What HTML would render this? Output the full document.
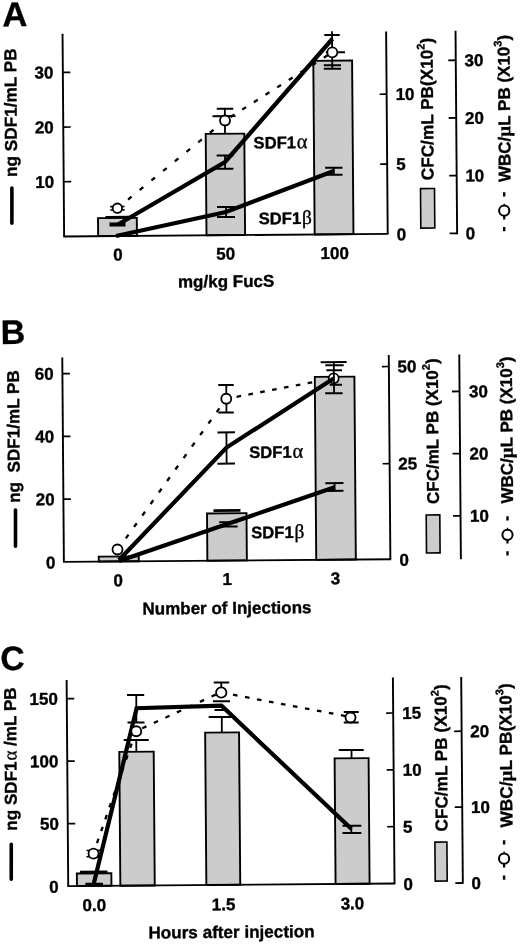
<!DOCTYPE html>
<html><head><meta charset="utf-8"><title>Figure</title>
<style>
html,body{margin:0;padding:0;background:#fff}
svg{display:block}
text{font-family:"Liberation Sans",sans-serif;font-weight:bold;fill:#000;stroke:#000;stroke-width:0.35px}
</style></head><body>
<svg width="520" height="947" viewBox="0 0 520 947">
<rect x="0" y="0" width="520" height="947" fill="#fff" stroke="none"/>
<g transform="rotate(-0.45 260 473.5)" stroke="#000" fill="none">
<g id="pa">
<text x="6.12" y="24.29" font-size="34.5" text-anchor="start" >A</text>
<rect x="100.01" y="216.89" width="38.8" height="18.01" fill="#cccccc" stroke-width="1.9"/>
<rect x="208.37" y="133.49" width="38.6" height="101.41" fill="#cccccc" stroke-width="1.9"/>
<rect x="316.54" y="61.28" width="38.8" height="173.62" fill="#cccccc" stroke-width="1.9"/>
<line x1="66" y1="32.2" x2="66" y2="234.9" stroke-width="1.9" />
<line x1="65.2" y1="234.9" x2="390.4" y2="234.9" stroke-width="1.9" />
<line x1="389.6" y1="32.6" x2="389.6" y2="234.9" stroke-width="1.9" />
<line x1="459" y1="32.2" x2="459" y2="235.7" stroke-width="1.9" />
<line x1="66" y1="180.2" x2="73.5" y2="180.2" stroke-width="1.7" />
<text x="56.5" y="186.2" font-size="17" text-anchor="end" >10</text>
<line x1="66" y1="125.5" x2="73.5" y2="125.5" stroke-width="1.7" />
<text x="56.5" y="131.5" font-size="17" text-anchor="end" >20</text>
<line x1="66" y1="70.8" x2="73.5" y2="70.8" stroke-width="1.7" />
<text x="56.5" y="76.8" font-size="17" text-anchor="end" >30</text>
<line x1="382.6" y1="165.05" x2="389.6" y2="165.05" stroke-width="1.7" />
<text x="398.6" y="171.05" font-size="17" text-anchor="start" >5</text>
<line x1="382.6" y1="95.2" x2="389.6" y2="95.2" stroke-width="1.7" />
<text x="398.6" y="101.2" font-size="17" text-anchor="start" >10</text>
<text x="398.6" y="241.4" font-size="17" text-anchor="start" >0</text>
<line x1="451.5" y1="234.9" x2="459" y2="234.9" stroke-width="1.8" />
<text x="467.7" y="240.9" font-size="17" text-anchor="start" >0</text>
<line x1="451.5" y1="177.2" x2="459" y2="177.2" stroke-width="1.8" />
<text x="467.7" y="183.2" font-size="17" text-anchor="start" >10</text>
<line x1="451.5" y1="119.5" x2="459" y2="119.5" stroke-width="1.8" />
<text x="467.7" y="125.5" font-size="17" text-anchor="start" >20</text>
<line x1="451.5" y1="61.8" x2="459" y2="61.8" stroke-width="1.8" />
<text x="467.7" y="67.8" font-size="17" text-anchor="start" >30</text>
<text transform="translate(19.45,46.5) rotate(-90)" font-size="17.2" text-anchor="end" >ng SDF1/mL PB</text>
<line x1="14.15" y1="186.06" x2="13.87" y2="221.26" stroke-width="3.6" stroke-linecap="round"/>
<text transform="translate(435.9,181.57) rotate(-90)" font-size="17.2" text-anchor="start" >CFC/mL PB(X10<tspan dy="-8" font-size="11">2</tspan><tspan dy="8">)</tspan></text>
<rect x="422.73" y="189.87" width="14" height="39.5" fill="#cccccc" stroke-width="1.6"/>
<text transform="translate(512.88,183.98) rotate(-90)" font-size="17" text-anchor="start" >WBC/<tspan font-weight="bold" font-size="19" font-family="'Liberation Serif',serif">µ</tspan>L PB (X10<tspan dy="-8" font-size="11">3</tspan><tspan dy="8">)</tspan></text>
<line x1="506.4" y1="194.23" x2="506.37" y2="198.43" stroke-width="2.4" />
<line x1="506.13" y1="228.93" x2="506.1" y2="233.13" stroke-width="2.4" />
<line x1="506.26" y1="212.63" x2="506.19" y2="221.33" stroke-width="2.2" />
<line x1="506.31" y1="205.63" x2="506.26" y2="212.63" stroke-width="1.2" />
<circle cx="506.26" cy="212.63" r="5.1" fill="#fff" stroke-width="2.0"/>
<text x="119.68" y="259.39" font-size="17" text-anchor="middle" >0</text>
<text x="227.38" y="259.34" font-size="17" text-anchor="middle" >50</text>
<text x="336.38" y="259.59" font-size="17" text-anchor="middle" >100</text>
<text x="179.46" y="286.86" font-size="17" text-anchor="start" >mg/kg FucS</text>
<text x="256.15" y="148.46" font-size="16.6" text-anchor="start" >SDF1<tspan font-weight="normal" font-size="20.5" dx="0.8" font-family="'Liberation Serif',serif">α</tspan></text>
<text x="260.76" y="224.3" font-size="16.6" text-anchor="start" >SDF1<tspan font-weight="normal" font-size="19.5" dx="0.8" font-family="'Liberation Serif',serif">β</tspan></text>
<line x1="227.67" y1="133.49" x2="227.67" y2="108.49" stroke-width="1.8" />
<line x1="219.62" y1="108.49" x2="236.12" y2="108.49" stroke-width="2.0" />
<line x1="107.52" y1="216.09" x2="131.52" y2="216.09" stroke-width="2.6" />
<line x1="130.18" y1="198.52" x2="133.76" y2="195.64" stroke-width="2.3" />
<line x1="141.95" y1="189.07" x2="145.54" y2="186.19" stroke-width="2.3" />
<line x1="153.73" y1="179.62" x2="157.32" y2="176.74" stroke-width="2.3" />
<line x1="165.51" y1="170.17" x2="169.1" y2="167.3" stroke-width="2.3" />
<line x1="177.29" y1="160.73" x2="180.88" y2="157.85" stroke-width="2.3" />
<line x1="189.07" y1="151.28" x2="192.66" y2="148.4" stroke-width="2.3" />
<line x1="200.85" y1="141.83" x2="204.44" y2="138.95" stroke-width="2.3" />
<line x1="212.63" y1="132.38" x2="216.22" y2="129.5" stroke-width="2.3" />
<line x1="233.37" y1="116.74" x2="237.28" y2="114.31" stroke-width="2.3" />
<line x1="245.08" y1="109.44" x2="248.99" y2="107.01" stroke-width="2.3" />
<line x1="256.79" y1="102.14" x2="260.69" y2="99.7" stroke-width="2.3" />
<line x1="268.5" y1="94.83" x2="272.4" y2="92.4" stroke-width="2.3" />
<line x1="280.21" y1="87.53" x2="284.11" y2="85.1" stroke-width="2.3" />
<line x1="291.92" y1="80.23" x2="295.82" y2="77.79" stroke-width="2.3" />
<line x1="303.63" y1="72.92" x2="307.53" y2="70.49" stroke-width="2.3" />
<line x1="315.34" y1="65.62" x2="319.24" y2="63.19" stroke-width="2.3" />
<line x1="327.05" y1="58.32" x2="330.95" y2="55.88" stroke-width="2.3" />
<polyline points="119.96,223.39 227.45,161.73 335.91,39.33" fill="none" stroke-width="4.2" stroke-linejoin="miter" />
<line x1="111.46" y1="223.39" x2="127.46" y2="223.39" stroke-width="4" />
<line x1="227.5" y1="155.23" x2="227.5" y2="168.48" stroke-width="1.8" />
<line x1="219.1" y1="155.23" x2="235.9" y2="155.23" stroke-width="2.0" />
<line x1="218.99" y1="168.48" x2="235.79" y2="168.48" stroke-width="2.0" />
<polyline points="117.87,234.88 228.05,211.74 336.17,171.59" fill="none" stroke-width="4.2" stroke-linejoin="miter" />
<line x1="228.09" y1="206.74" x2="228.09" y2="216.74" stroke-width="1.8" />
<line x1="219.09" y1="206.74" x2="237.09" y2="206.74" stroke-width="2.0" />
<line x1="219.02" y1="216.74" x2="237.02" y2="216.74" stroke-width="2.0" />
<line x1="336.2" y1="168.29" x2="336.2" y2="175.39" stroke-width="1.8" />
<line x1="327.5" y1="168.29" x2="344.9" y2="168.29" stroke-width="2.0" />
<line x1="327.44" y1="175.39" x2="344.84" y2="175.39" stroke-width="2.0" />
<line x1="335.47" y1="31.88" x2="335.47" y2="69.38" stroke-width="1.8" />
<line x1="327.74" y1="35.58" x2="343.14" y2="35.58" stroke-width="2.0" />
<line x1="327" y1="65.88" x2="344.2" y2="65.88" stroke-width="2.0" />
<line x1="326.98" y1="69.38" x2="344.18" y2="69.38" stroke-width="2.0" />
<line x1="329.11" y1="52.81" x2="348.31" y2="52.81" stroke-width="2.0" />
<circle cx="335.61" cy="52.98" r="5.0" fill="#fff" stroke-width="1.8"/>
<line x1="215.31" y1="115.93" x2="238.31" y2="115.93" stroke-width="2.0" />
<circle cx="227.77" cy="120.24" r="5.0" fill="#fff" stroke-width="1.8"/>
<line x1="112.3" y1="205.49" x2="126.7" y2="205.49" stroke-width="1.6" />
<line x1="112.27" y1="208.79" x2="126.67" y2="208.79" stroke-width="1.6" />
<circle cx="119.49" cy="207.09" r="4.7" fill="#fff" stroke-width="1.8"/>
</g>
<g id="pb">
<text x="1.73" y="341.97" font-size="34" text-anchor="start" >B</text>
<rect x="98.1" y="555.39" width="40" height="4.91" fill="#cccccc" stroke-width="1.9"/>
<rect x="206.69" y="513.04" width="39.5" height="47.26" fill="#cccccc" stroke-width="1.9"/>
<rect x="315.56" y="377.34" width="39.6" height="182.96" fill="#cccccc" stroke-width="1.9"/>
<line x1="63.2" y1="356" x2="63.2" y2="560.3" stroke-width="1.9" />
<line x1="62.4" y1="560.3" x2="390.5" y2="560.3" stroke-width="1.9" />
<line x1="389.7" y1="356" x2="389.7" y2="560.3" stroke-width="1.9" />
<line x1="460.2" y1="356" x2="460.2" y2="560.9" stroke-width="1.9" />
<line x1="63.2" y1="497.55" x2="70.7" y2="497.55" stroke-width="1.7" />
<text x="54.4" y="503.55" font-size="17" text-anchor="end" >20</text>
<line x1="63.2" y1="434.8" x2="70.7" y2="434.8" stroke-width="1.7" />
<text x="54.4" y="440.8" font-size="17" text-anchor="end" >40</text>
<line x1="63.2" y1="372.05" x2="70.7" y2="372.05" stroke-width="1.7" />
<text x="54.4" y="378.05" font-size="17" text-anchor="end" >60</text>
<text x="54.7" y="566.8" font-size="17" text-anchor="end" >0</text>
<line x1="382.7" y1="464.7" x2="389.7" y2="464.7" stroke-width="1.7" />
<text x="398.3" y="470.7" font-size="17" text-anchor="start" >25</text>
<line x1="382.7" y1="367.5" x2="389.7" y2="367.5" stroke-width="1.7" />
<text x="398.3" y="373.5" font-size="17" text-anchor="start" >50</text>
<text x="398.7" y="566.8" font-size="17" text-anchor="start" >0</text>
<line x1="452.7" y1="517.4" x2="460.2" y2="517.4" stroke-width="1.8" />
<text x="469.7" y="523.4" font-size="17" text-anchor="start" >10</text>
<line x1="452.7" y1="455.2" x2="460.2" y2="455.2" stroke-width="1.8" />
<text x="469.7" y="461.2" font-size="17" text-anchor="start" >20</text>
<line x1="452.7" y1="393" x2="460.2" y2="393" stroke-width="1.8" />
<text x="469.7" y="399" font-size="17" text-anchor="start" >30</text>
<text transform="translate(19.72,368.31) rotate(-90)" font-size="17.1" text-anchor="end" >ng&#160;&#160;SDF1/mL PB</text>
<line x1="15.22" y1="508.08" x2="14.94" y2="544.28" stroke-width="3.6" stroke-linecap="round"/>
<text transform="translate(438.65,505.4) rotate(-90)" font-size="17" text-anchor="start" >CFC/mL PB (X10<tspan dy="-8" font-size="11">2</tspan><tspan dy="8">)</tspan></text>
<rect x="425.87" y="516.3" width="13.6" height="38" fill="#cccccc" stroke-width="1.6"/>
<text transform="translate(512.76,505.59) rotate(-90)" font-size="17" text-anchor="start" >WBC/<tspan font-weight="bold" font-size="19" font-family="'Liberation Serif',serif">µ</tspan>L PB (X10<tspan dy="-8" font-size="11">3</tspan><tspan dy="8">)</tspan></text>
<line x1="507.16" y1="518.14" x2="507.12" y2="522.34" stroke-width="2.4" />
<line x1="506.88" y1="553.14" x2="506.85" y2="557.34" stroke-width="2.4" />
<line x1="507.01" y1="536.74" x2="506.94" y2="545.44" stroke-width="2.2" />
<line x1="507.07" y1="529.74" x2="507.01" y2="536.74" stroke-width="1.2" />
<circle cx="507.01" cy="536.74" r="5.1" fill="#fff" stroke-width="2.0"/>
<text x="117.37" y="585.18" font-size="17" text-anchor="middle" >0</text>
<text x="226.33" y="584.74" font-size="17" text-anchor="middle" >1</text>
<text x="334.53" y="584.79" font-size="17" text-anchor="middle" >3</text>
<text x="141.4" y="613.57" font-size="17" text-anchor="start" >Number of Injections</text>
<text x="249.42" y="457.92" font-size="16.6" text-anchor="start" >SDF1<tspan font-weight="normal" font-size="20.5" dx="0.8" font-family="'Liberation Serif',serif">α</tspan></text>
<text x="250.69" y="538.23" font-size="16.6" text-anchor="start" >SDF1<tspan font-weight="normal" font-size="19.5" dx="0.8" font-family="'Liberation Serif',serif">β</tspan></text>
<line x1="213.21" y1="510.24" x2="240.21" y2="510.24" stroke-width="2.6" />
<line x1="117.51" y1="548.08" x2="119.69" y2="545.1" stroke-width="2.3" />
<line x1="125.33" y1="537.39" x2="128.04" y2="533.67" stroke-width="2.3" />
<line x1="133.68" y1="525.96" x2="136.39" y2="522.25" stroke-width="2.3" />
<line x1="142.03" y1="514.54" x2="144.74" y2="510.82" stroke-width="2.3" />
<line x1="150.38" y1="503.11" x2="153.09" y2="499.4" stroke-width="2.3" />
<line x1="158.72" y1="491.69" x2="161.44" y2="487.97" stroke-width="2.3" />
<line x1="167.07" y1="480.26" x2="169.79" y2="476.55" stroke-width="2.3" />
<line x1="175.42" y1="468.84" x2="178.14" y2="465.13" stroke-width="2.3" />
<line x1="183.77" y1="457.42" x2="186.49" y2="453.7" stroke-width="2.3" />
<line x1="192.12" y1="445.99" x2="194.84" y2="442.28" stroke-width="2.3" />
<line x1="200.47" y1="434.57" x2="203.18" y2="430.85" stroke-width="2.3" />
<line x1="208.82" y1="423.14" x2="211.53" y2="419.43" stroke-width="2.3" />
<line x1="217.17" y1="411.72" x2="219.88" y2="408" stroke-width="2.3" />
<line x1="226.84" y1="398.49" x2="229.79" y2="397.95" stroke-width="2.3" />
<line x1="237.14" y1="396.6" x2="241.66" y2="395.77" stroke-width="2.3" />
<line x1="249.01" y1="394.42" x2="253.53" y2="393.59" stroke-width="2.3" />
<line x1="260.88" y1="392.25" x2="265.41" y2="391.42" stroke-width="2.3" />
<line x1="272.75" y1="390.07" x2="277.28" y2="389.24" stroke-width="2.3" />
<line x1="284.63" y1="387.89" x2="289.15" y2="387.07" stroke-width="2.3" />
<line x1="296.5" y1="385.72" x2="301.02" y2="384.89" stroke-width="2.3" />
<line x1="308.37" y1="383.54" x2="312.89" y2="382.71" stroke-width="2.3" />
<circle cx="334.44" cy="378.98" r="5.0" fill="#fff" stroke-width="1.8"/>
<polyline points="118.32,558.89 226.7,447.34 334.34,379.18" fill="none" stroke-width="4.2" stroke-linejoin="miter" />
<line x1="226.72" y1="432.14" x2="226.72" y2="463.34" stroke-width="1.8" />
<line x1="217.77" y1="432.14" x2="235.27" y2="432.14" stroke-width="2.0" />
<line x1="217.53" y1="463.33" x2="235.03" y2="463.33" stroke-width="2.0" />
<polyline points="118.32,559.89 226.1,524.04 334.49,487.79" fill="none" stroke-width="4.2" stroke-linejoin="miter" />
<line x1="218.82" y1="521.95" x2="237.22" y2="521.95" stroke-width="2.0" />
<line x1="218.78" y1="526.25" x2="237.18" y2="526.25" stroke-width="2.0" />
<line x1="334.52" y1="483.79" x2="334.52" y2="491.49" stroke-width="1.8" />
<line x1="325.22" y1="483.78" x2="343.42" y2="483.78" stroke-width="2.0" />
<line x1="325.16" y1="491.48" x2="343.36" y2="491.48" stroke-width="2.0" />
<line x1="334.67" y1="362.78" x2="334.67" y2="393.88" stroke-width="1.8" />
<line x1="321.47" y1="362.78" x2="347.47" y2="362.78" stroke-width="2.0" />
<line x1="326.15" y1="365.79" x2="344.55" y2="365.79" stroke-width="2.0" />
<line x1="327.21" y1="370.79" x2="342.81" y2="370.79" stroke-width="2.0" />
<line x1="330.3" y1="385.3" x2="342.7" y2="385.3" stroke-width="2.0" />
<line x1="325.83" y1="393.88" x2="343.23" y2="393.88" stroke-width="2.0" />
<line x1="226.95" y1="384.74" x2="226.95" y2="412.24" stroke-width="1.8" />
<line x1="218.95" y1="384.74" x2="234.45" y2="384.74" stroke-width="2.0" />
<line x1="218.73" y1="412.23" x2="234.23" y2="412.23" stroke-width="2.0" />
<circle cx="226.84" cy="398.49" r="5" fill="#fff" stroke-width="1.8"/>
<circle cx="116.91" cy="548.38" r="5.0" fill="#fff" stroke-width="1.8"/>
</g>
<g id="pc">
<text x="-0.94" y="667.96" font-size="33.5" text-anchor="start" >C</text>
<rect x="73.71" y="872.08" width="34.5" height="12.52" fill="#cccccc" stroke-width="1.9"/>
<rect x="117.12" y="750.77" width="34.4" height="133.83" fill="#cccccc" stroke-width="1.9"/>
<rect x="203.12" y="732.19" width="33.9" height="152.41" fill="#cccccc" stroke-width="1.9"/>
<rect x="332.36" y="758.96" width="34" height="125.64" fill="#cccccc" stroke-width="1.9"/>
<line x1="65" y1="678.5" x2="65" y2="884.6" stroke-width="1.9" />
<line x1="64.2" y1="884.6" x2="392.1" y2="884.6" stroke-width="1.9" />
<line x1="391.3" y1="678.5" x2="391.3" y2="884.6" stroke-width="1.9" />
<line x1="459.6" y1="678.5" x2="459.6" y2="885.4" stroke-width="1.9" />
<line x1="65" y1="822.1" x2="72.5" y2="822.1" stroke-width="1.7" />
<text x="56.1" y="828.1" font-size="17" text-anchor="end" >50</text>
<line x1="65" y1="759.6" x2="72.5" y2="759.6" stroke-width="1.7" />
<text x="56.1" y="765.6" font-size="17" text-anchor="end" >100</text>
<line x1="65" y1="697.1" x2="72.5" y2="697.1" stroke-width="1.7" />
<text x="56.1" y="703.1" font-size="17" text-anchor="end" >150</text>
<text x="55.5" y="891.1" font-size="17" text-anchor="end" >0</text>
<line x1="384.3" y1="827.75" x2="391.3" y2="827.75" stroke-width="1.7" />
<text x="400.3" y="833.75" font-size="17" text-anchor="start" >5</text>
<line x1="384.3" y1="770.9" x2="391.3" y2="770.9" stroke-width="1.7" />
<text x="400.3" y="776.9" font-size="17" text-anchor="start" >10</text>
<line x1="384.3" y1="714.05" x2="391.3" y2="714.05" stroke-width="1.7" />
<text x="400.3" y="720.05" font-size="17" text-anchor="start" >15</text>
<text x="400.3" y="891.1" font-size="17" text-anchor="start" >0</text>
<line x1="452.1" y1="884.6" x2="459.6" y2="884.6" stroke-width="1.8" />
<text x="468.3" y="890.6" font-size="17" text-anchor="start" >0</text>
<line x1="452.1" y1="808.7" x2="459.6" y2="808.7" stroke-width="1.8" />
<text x="468.3" y="814.7" font-size="17" text-anchor="start" >10</text>
<line x1="452.1" y1="732.8" x2="459.6" y2="732.8" stroke-width="1.8" />
<text x="468.3" y="738.8" font-size="17" text-anchor="start" >20</text>
<text transform="translate(14.23,685.38) rotate(-90)" font-size="17.1" text-anchor="end" >ng SDF1<tspan font-weight="normal" font-size="19" dx="0.8" font-family="'Liberation Serif',serif">α</tspan> /mL PB</text>
<line x1="8.35" y1="842.33" x2="8.07" y2="877.23" stroke-width="3.6" stroke-linecap="round"/>
<text transform="translate(444.78,832.96) rotate(-90)" font-size="17.2" text-anchor="start" >CFC/mL PB (X10<tspan dy="-8" font-size="11">2</tspan><tspan dy="8">)</tspan></text>
<rect x="432" y="843.46" width="12" height="39" fill="#cccccc" stroke-width="1.6"/>
<text transform="translate(509.61,829.47) rotate(-90)" font-size="17.25" text-anchor="start" >WBC/<tspan font-weight="bold" font-size="19" font-family="'Liberation Serif',serif">µ</tspan>L PB(X10<tspan dy="-8" font-size="11">3</tspan><tspan dy="8">)</tspan></text>
<line x1="501.21" y1="842.21" x2="501.18" y2="846.41" stroke-width="2.4" />
<line x1="500.94" y1="877.4" x2="500.9" y2="881.6" stroke-width="2.4" />
<line x1="501.07" y1="860.51" x2="501" y2="869.4" stroke-width="2.2" />
<line x1="501.12" y1="853.51" x2="501.07" y2="860.51" stroke-width="1.2" />
<circle cx="501.07" cy="860.51" r="5.1" fill="#fff" stroke-width="2.0"/>
<text x="90.87" y="909.69" font-size="17" text-anchor="middle" >0.0</text>
<text x="220.27" y="910" font-size="17" text-anchor="middle" >1.5</text>
<text x="349.07" y="910.01" font-size="17" text-anchor="middle" >3.0</text>
<text x="144.85" y="937.61" font-size="17.1" text-anchor="start" >Hours after injection</text>
<line x1="76.88" y1="870.68" x2="104.38" y2="870.68" stroke-width="2.6" />
<line x1="134.16" y1="739.02" x2="134.16" y2="750.77" stroke-width="1.8" />
<line x1="121.66" y1="739.02" x2="146.66" y2="739.02" stroke-width="2.0" />
<line x1="219.84" y1="716.69" x2="219.84" y2="732.19" stroke-width="1.8" />
<line x1="206.79" y1="716.68" x2="230.59" y2="716.68" stroke-width="2.0" />
<line x1="349.33" y1="750.71" x2="349.33" y2="758.96" stroke-width="1.8" />
<line x1="336.58" y1="750.71" x2="361.58" y2="750.71" stroke-width="2.0" />
<line x1="90.52" y1="851.88" x2="91.43" y2="849.34" stroke-width="2.3" />
<line x1="94.12" y1="841.8" x2="95.66" y2="837.47" stroke-width="2.3" />
<line x1="98.35" y1="829.93" x2="99.9" y2="825.6" stroke-width="2.3" />
<line x1="102.58" y1="818.07" x2="104.13" y2="813.73" stroke-width="2.3" />
<line x1="106.82" y1="806.2" x2="108.36" y2="801.87" stroke-width="2.3" />
<line x1="111.05" y1="794.33" x2="112.59" y2="790" stroke-width="2.3" />
<line x1="115.28" y1="782.46" x2="116.83" y2="778.13" stroke-width="2.3" />
<line x1="119.51" y1="770.6" x2="121.06" y2="766.26" stroke-width="2.3" />
<line x1="123.75" y1="758.73" x2="125.29" y2="754.4" stroke-width="2.3" />
<line x1="127.98" y1="746.86" x2="129.52" y2="742.53" stroke-width="2.3" />
<line x1="140.24" y1="727.33" x2="144.44" y2="725.45" stroke-width="2.3" />
<line x1="151.83" y1="722.13" x2="156.03" y2="720.25" stroke-width="2.3" />
<line x1="163.42" y1="716.94" x2="167.62" y2="715.06" stroke-width="2.3" />
<line x1="175.01" y1="711.75" x2="179.21" y2="709.86" stroke-width="2.3" />
<line x1="186.6" y1="706.55" x2="190.79" y2="704.67" stroke-width="2.3" />
<line x1="198.19" y1="701.36" x2="202.38" y2="699.47" stroke-width="2.3" />
<line x1="209.77" y1="696.16" x2="213.97" y2="694.28" stroke-width="2.3" />
<line x1="219.53" y1="692.19" x2="223.8" y2="693.03" stroke-width="2.3" />
<line x1="231.25" y1="694.5" x2="235.77" y2="695.4" stroke-width="2.3" />
<line x1="243.22" y1="696.87" x2="247.74" y2="697.76" stroke-width="2.3" />
<line x1="255.19" y1="699.23" x2="259.7" y2="700.13" stroke-width="2.3" />
<line x1="267.16" y1="701.6" x2="271.67" y2="702.49" stroke-width="2.3" />
<line x1="279.13" y1="703.96" x2="283.64" y2="704.85" stroke-width="2.3" />
<line x1="291.1" y1="706.33" x2="295.61" y2="707.22" stroke-width="2.3" />
<line x1="303.07" y1="708.69" x2="307.58" y2="709.58" stroke-width="2.3" />
<line x1="315.04" y1="711.06" x2="319.55" y2="711.95" stroke-width="2.3" />
<line x1="327" y1="713.42" x2="331.52" y2="714.31" stroke-width="2.3" />
<line x1="338.97" y1="715.79" x2="343.49" y2="716.68" stroke-width="2.3" />
<polyline points="89.97,884.68 134.76,707.27 219.68,705.44 348.46,829.46" fill="none" stroke-width="4.2" stroke-linejoin="miter" />
<line x1="82.18" y1="882.99" x2="99.78" y2="882.99" stroke-width="3" />
<line x1="134.51" y1="694.02" x2="134.51" y2="721.52" stroke-width="1.8" />
<line x1="125.26" y1="694.02" x2="142.46" y2="694.02" stroke-width="2.0" />
<line x1="125.55" y1="721.52" x2="142.55" y2="721.52" stroke-width="2.0" />
<line x1="211.21" y1="700.94" x2="228.21" y2="700.94" stroke-width="2.0" />
<line x1="212.64" y1="709.69" x2="226.84" y2="709.69" stroke-width="2.0" />
<line x1="348.48" y1="826.46" x2="348.48" y2="833.71" stroke-width="1.8" />
<line x1="339.73" y1="826.46" x2="358.53" y2="826.46" stroke-width="2.0" />
<line x1="339.67" y1="833.71" x2="358.47" y2="833.71" stroke-width="2.0" />
<line x1="83.55" y1="849.08" x2="97.55" y2="849.08" stroke-width="1.5" />
<line x1="83.49" y1="855.48" x2="97.49" y2="855.48" stroke-width="1.5" />
<circle cx="90.52" cy="852.28" r="5" fill="#fff" stroke-width="1.8"/>
<circle cx="134.23" cy="730.27" r="5" fill="#fff" stroke-width="1.8"/>
<line x1="219.61" y1="682.19" x2="219.61" y2="692.19" stroke-width="1.8" />
<line x1="212.11" y1="682.19" x2="227.61" y2="682.19" stroke-width="2.0" />
<circle cx="219.53" cy="692.19" r="5.2" fill="#fff" stroke-width="1.8"/>
<line x1="341.87" y1="712.71" x2="356.87" y2="712.71" stroke-width="2.0" />
<line x1="341.79" y1="723.21" x2="356.79" y2="723.21" stroke-width="2.0" />
<circle cx="348.58" cy="718.2" r="5" fill="#fff" stroke-width="1.8"/>
</g>
</g>
</svg>
</body></html>
